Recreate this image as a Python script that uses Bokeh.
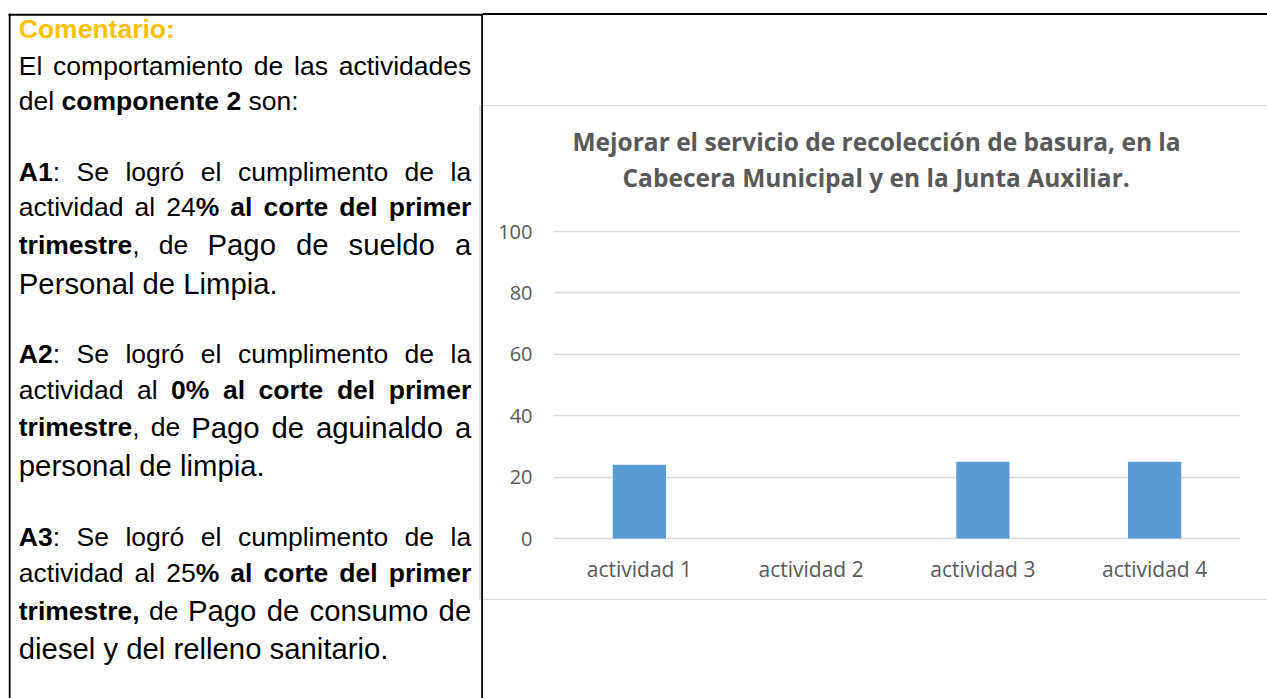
import re
from bokeh.plotting import figure
from bokeh.models import Range1d, FactorRange, FixedTicker, ColumnDataSource, Title
from bokeh.layouts import row, column
from bokeh.core.properties import value
from bokeh.embed import file_html
from bokeh.resources import INLINE

# ---------------- chart data ----------------
categories = ["actividad 1", "actividad 2", "actividad 3", "actividad 4"]
values = [24, 0, 25, 25]
y_ticks = [0, 20, 40, 60, 80, 100]
chart_title = ["Mejorar el servicio de recolección de basura, en la",
               "Cabecera Municipal y en la Junta Auxiliar."]

# ---------------- comment text (segments: text, style) ----------------
comment_lines = [
    ([("Comentario:", "h")], False),
    ([("El comportamiento de las actividades", "r")], True),
    ([("del ", "r"), ("componente 2", "b"), (" son:", "r")], False),
    ([("A1", "b"), (": Se logró el cumplimento de la", "r")], True),
    ([("actividad al 24", "r"), ("% al corte del primer", "b")], True),
    ([("trimestre", "b"), (", de ", "r"), ("Pago de sueldo a", "L")], True),
    ([("Personal de Limpia.", "L")], False),
    ([("A2", "b"), (": Se logró el cumplimento de la", "r")], True),
    ([("actividad al ", "r"), ("0% al corte del primer", "b")], True),
    ([("trimestre", "b"), (", de ", "r"), ("Pago de aguinaldo a", "L")], True),
    ([("personal de limpia.", "L")], False),
    ([("A3", "b"), (": Se logró el cumplimento de la", "r")], True),
    ([("actividad al 25", "r"), ("% al corte del primer", "b")], True),
    ([("trimestre,", "b"), (" de ", "r"), ("Pago de consumo de", "L")], True),
    ([("diesel y del relleno sanitario.", "L")], False),
]
line_baselines = [28.5, 65, 100, 171, 206, 244, 282.7, 353, 389, 426.7, 465, 536.7, 572.3, 610, 648.3]

SMALL, LARGE = 26.5, 29.3
STYLES = {
    "h": ("bold", SMALL, "#FFC000"),
    "b": ("bold", SMALL, "#000000"),
    "r": ("normal", SMALL, "#000000"),
    "L": ("normal", LARGE, "#000000"),
}

_reg = dict(zip("ABCDEFGHIJKLMNOPQRSTUVWXYZ",
                [667, 667, 722, 722, 667, 611, 778, 722, 278, 500, 667, 556, 833, 722, 778, 667, 778, 722, 667, 611, 722, 667, 944, 667, 667, 611]))
_reg.update(zip("abcdefghijklmnopqrstuvwxyz",
                [556, 556, 500, 556, 556, 278, 556, 556, 222, 222, 500, 222, 833, 556, 556, 556, 556, 333, 500, 278, 556, 500, 722, 500, 500, 500]))
_reg.update({" ": 278, "%": 889, ",": 278, ".": 278, ":": 278, "ó": 556})
_reg.update({d: 556 for d in "0123456789"})
_bold = dict(zip("ABCDEFGHIJKLMNOPQRSTUVWXYZ",
                 [722, 722, 722, 722, 667, 611, 778, 722, 278, 556, 722, 611, 833, 722, 778, 667, 778, 722, 667, 611, 722, 667, 944, 667, 667, 611]))
_bold.update(zip("abcdefghijklmnopqrstuvwxyz",
                 [556, 611, 556, 611, 556, 333, 611, 611, 278, 278, 556, 278, 889, 611, 611, 611, 611, 389, 556, 333, 611, 556, 778, 556, 556, 500]))
_bold.update({" ": 278, "%": 889, ",": 278, ".": 278, ":": 333, "ó": 611})
_bold.update({d: 556 for d in "0123456789"})


def text_width(s, st):
    weight, size, _ = STYLES[st]
    tbl = _bold if weight == "bold" else _reg
    return sum(tbl.get(c, 556) for c in s) * size / 1000.0


def layout_line(segs, justify, x0=18.3, x1=470.7):
    toks = []
    for txt, st in segs:
        for tok in re.split(r"( )", txt):
            if tok:
                toks.append((tok, st, text_width(tok, st), tok == " "))
    natural = sum(t[2] for t in toks)
    nsp = sum(1 for t in toks if t[3])
    extra = (x1 - x0 - natural) / nsp if (justify and nsp) else 0.0
    x, out = x0, []
    for tok, st, w, sp in toks:
        if sp:
            x += w + extra
        else:
            out.append((x, tok, st))
            x += w
    return out


FONT_CHART = "Open Sans"
GRAY = "#595959"
LIGHT = "#d9d9d9"
W, H = 1267, 698
SPLIT = 483                      # page x where the right cell starts
FL, FR, FT, FB = 553, 1240, 194, 544   # chart frame (page px)

# ---------------- left cell ----------------
left = figure(width=SPLIT, height=H, x_range=Range1d(0, SPLIT), y_range=Range1d(H, 0),
              x_axis_type=None, y_axis_type=None, output_backend="svg",
              toolbar_location=None, min_border=0, title=None)
left.grid.visible = False
left.outline_line_color = None

groups = {}
for (segs, just), yb in zip(comment_lines, line_baselines):
    for x, tok, st in layout_line(segs, just):
        g = groups.setdefault(st, {"x": [], "y": [], "t": []})
        g["x"].append(x)
        g["y"].append(yb)
        g["t"].append(tok)
for st, g in groups.items():
    weight, size, color = STYLES[st]
    left.text(x="x", y="y", text="t", source=ColumnDataSource(g),
              text_font=value("Liberation Sans"), text_font_size=value(f"{size}px"),
              text_font_style=weight, text_color=color,
              text_align="left", text_baseline="alphabetic")

# rules: left, right, top, bottom
left.quad(left=[478.7, 478.7, 478.7], right=[480.3, SPLIT, SPLIT],
          top=[105.0, 105.0, 598.7], bottom=[600.0, 106.3, 600.0],
          fill_color=LIGHT, line_color=None)
left.quad(left=[8, 8.3, 480.7], right=[SPLIT, 10.1, 482.7],
          top=[13.3, 13.3, 13.3], bottom=[15.3, H, H],
          fill_color="black", line_color=None)

# ---------------- right cell: bar chart ----------------
rules_css = ("linear-gradient(to bottom, transparent 13.3px, #000000 13.3px, #000000 15.3px, "
             "transparent 15.3px, transparent 105px, #d9d9d9 105px, #d9d9d9 106.3px, "
             "transparent 106.3px, transparent 598.7px, #d9d9d9 598.7px, #d9d9d9 600px, "
             "transparent 600px)")
y_top = 100 + (231 - FT) / 3.07
chart = figure(width=W - SPLIT, height=H, x_range=FactorRange(*categories, range_padding=0),
               y_range=Range1d(-1.954, y_top), output_backend="svg",
               toolbar_location=None, title=None,
               min_border_left=FL - SPLIT, min_border_right=W - FR,
               min_border_top=FT, min_border_bottom=H - FB,
               styles={"background-image": rules_css})
chart.border_fill_color = None
chart.background_fill_color = None
chart.outline_line_color = None

src = ColumnDataSource(dict(cat=categories, val=values))
chart.vbar(x="cat", top="val", bottom=0, width=0.31, source=src,
           fill_color="#5B9BD5", line_color=None)

chart.xgrid.grid_line_color = None
chart.ygrid.grid_line_color = LIGHT
chart.ygrid.grid_line_width = 1.3
chart.yaxis.ticker = FixedTicker(ticks=y_ticks)
for ax in (chart.xaxis[0], chart.yaxis[0]):
    ax.axis_line_color = None
    ax.major_tick_line_color = None
    ax.minor_tick_line_color = None
    ax.major_tick_out = 0
    ax.major_tick_in = 0
    ax.major_label_text_font = FONT_CHART
    ax.major_label_text_color = GRAY
chart.yaxis.major_label_text_font_size = "20px"
chart.xaxis.major_label_text_font_size = "21px"
chart.yaxis.major_label_standoff = 21
chart.xaxis.major_label_standoff = 10

for txt, off, so in zip(reversed(chart_title), [69, 19], [2, 0]):
    chart.add_layout(Title(text=txt, align="left", offset=off, standoff=so,
                           text_font=FONT_CHART, text_font_size="24.5px",
                           text_font_style="bold", text_color=GRAY), "above")

layout = row(left, column(chart))
open("out.html", "w").write(file_html(layout, INLINE))
